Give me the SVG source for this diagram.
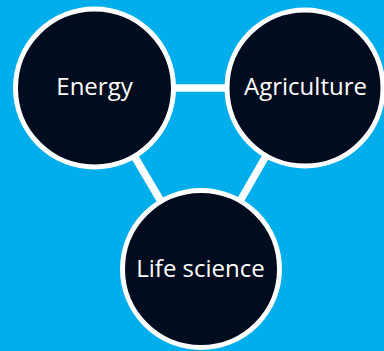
<svg xmlns="http://www.w3.org/2000/svg" width="384" height="351" viewBox="0 0 384 351">
<style>
.node{fill:#010c1e;stroke:#ffffff;stroke-width:5}
.lbl{fill:#ffffff;font-family:"Open Sans","Liberation Sans",sans-serif;font-size:24px;text-anchor:middle}
.conn{stroke:#ffffff;stroke-width:7.5;fill:none}
</style>
<rect width="384" height="351" fill="#00aeeb"/>
<g id="connectors">
<line class="conn" x1="94" y1="88" x2="305" y2="88"/>
<line class="conn" x1="94" y1="88" x2="201" y2="269"/>
<line class="conn" x1="305" y1="88" x2="201" y2="269"/>
</g>
<g id="energy">
<circle class="node" cx="94.5" cy="88" r="79"/>
<text class="lbl" x="94.5" y="94.5">Energy</text>
</g>
<g id="agriculture">
<circle class="node" cx="305" cy="88" r="78"/>
<text class="lbl" x="305.5" y="94.5">Agriculture</text>
</g>
<g id="life-science">
<circle class="node" cx="201" cy="269" r="78.5"/>
<text class="lbl" x="200.5" y="277" font-size="23.5">Life science</text>
</g>
</svg>
